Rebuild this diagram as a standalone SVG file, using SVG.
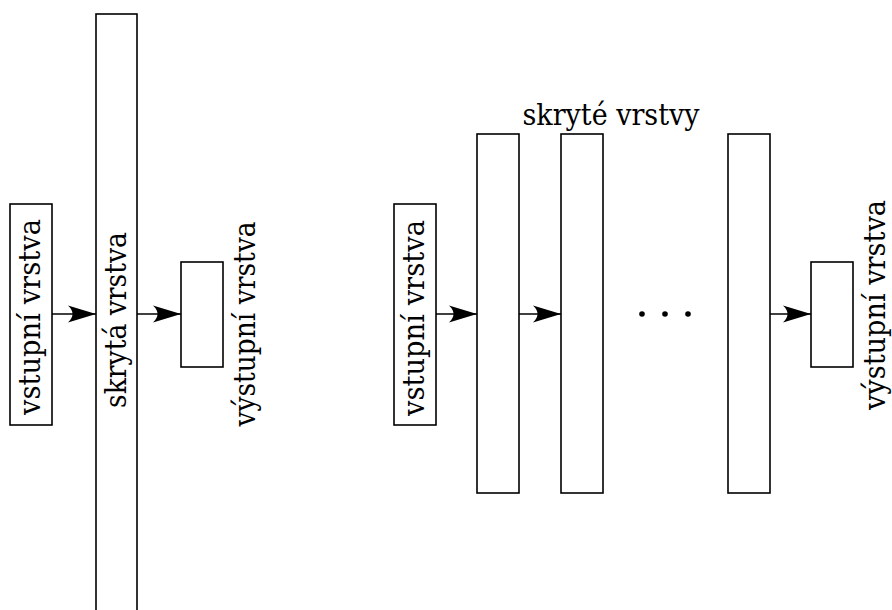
<svg xmlns="http://www.w3.org/2000/svg" width="892" height="610" viewBox="0 0 892 610">
<style>
.box{fill:#fff;stroke:#000;stroke-width:1.6}
.con{stroke:#000;stroke-width:1.6;fill:none}
.lbl{font-family:"DejaVu Serif",serif;font-size:29px;fill:#000}
</style>
<defs>
<marker id="ah" markerUnits="userSpaceOnUse" viewBox="-29 -10 30 20" refX="0" refY="0" markerWidth="30" markerHeight="20" orient="auto">
<path d="M0,0 L-28,-8.5 Q-19,0 -28,8.5 Z" fill="#000"/>
</marker>
</defs>
<rect width="892" height="610" fill="#fff"/>
<g id="left-input">
<rect class="box" x="10" y="204" width="42" height="221"/>
<text class="lbl" transform="translate(40,317) rotate(-90)" text-anchor="middle" textLength="196" lengthAdjust="spacingAndGlyphs">vstupní vrstva</text>
</g>
<g id="left-hidden">
<rect class="box" x="96" y="14" width="41" height="610"/>
<text class="lbl" transform="translate(126,320) rotate(-90)" text-anchor="middle" textLength="176" lengthAdjust="spacingAndGlyphs">skrytá vrstva</text>
</g>
<g id="left-output">
<rect class="box" x="181" y="262" width="42" height="105"/>
<text class="lbl" transform="translate(255,324) rotate(-90)" text-anchor="middle" textLength="205" lengthAdjust="spacingAndGlyphs">výstupní vrstva</text>
</g>
<g id="right-input">
<rect class="box" x="394" y="204" width="42" height="221"/>
<text class="lbl" transform="translate(424,318) rotate(-90)" text-anchor="middle" textLength="196" lengthAdjust="spacingAndGlyphs">vstupní vrstva</text>
</g>
<g id="right-hidden-label">
<text class="lbl" x="611" y="125" text-anchor="middle" textLength="177" lengthAdjust="spacingAndGlyphs">skryté vrstvy</text>
</g>
<g id="right-hidden-1"><rect class="box" x="477" y="134" width="42" height="359"/></g>
<g id="right-hidden-2"><rect class="box" x="561" y="134" width="42" height="359"/></g>
<g id="right-dots">
<circle cx="642" cy="314" r="2.8" fill="#000"/>
<circle cx="665" cy="314" r="2.8" fill="#000"/>
<circle cx="688" cy="314" r="2.8" fill="#000"/>
</g>
<g id="right-hidden-3"><rect class="box" x="728" y="134" width="42" height="359"/></g>
<g id="right-output">
<rect class="box" x="811" y="262" width="42" height="105"/>
<text class="lbl" transform="translate(885,305) rotate(-90)" text-anchor="middle" textLength="210" lengthAdjust="spacingAndGlyphs">výstupní vrstva</text>
</g>
<g id="connectors">
<line class="con" x1="52" y1="314" x2="96" y2="314" marker-end="url(#ah)"/>
<line class="con" x1="137" y1="314" x2="181" y2="314" marker-end="url(#ah)"/>
<line class="con" x1="436" y1="314" x2="477" y2="314" marker-end="url(#ah)"/>
<line class="con" x1="519" y1="314" x2="561" y2="314" marker-end="url(#ah)"/>
<line class="con" x1="770" y1="314" x2="811" y2="314" marker-end="url(#ah)"/>
</g>
</svg>
